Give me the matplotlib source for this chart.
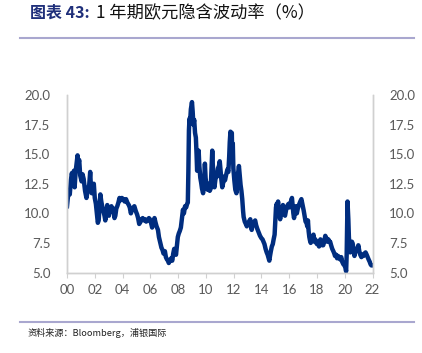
import matplotlib
matplotlib.use("Agg")
import matplotlib.pyplot as plt

plt.rcParams['font.family'] = ['Lato', 'Noto Sans CJK SC', 'DejaVu Sans']

# 1-year EUR implied vol (year, %)
years = [
    2000.00, 2000.05, 2000.12, 2000.20, 2000.28, 2000.35, 2000.42, 2000.50, 2000.55, 2000.62,
    2000.70, 2000.76, 2000.82, 2000.88, 2000.95, 2001.05, 2001.12, 2001.20, 2001.30, 2001.40,
    2001.50, 2001.60, 2001.67, 2001.72, 2001.78, 2001.85, 2001.93, 2002.00, 2002.08, 2002.15,
    2002.22, 2002.28, 2002.35, 2002.40, 2002.47, 2002.55, 2002.62, 2002.70, 2002.76, 2002.83,
    2002.90, 2002.96, 2003.02, 2003.10, 2003.20, 2003.28, 2003.35, 2003.42, 2003.48, 2003.55,
    2003.62, 2003.70, 2003.78, 2003.85, 2003.95, 2004.05, 2004.15, 2004.25, 2004.35, 2004.45,
    2004.52, 2004.60, 2004.68, 2004.78, 2004.85, 2004.95, 2005.05, 2005.12, 2005.20, 2005.30,
    2005.38, 2005.45, 2005.55, 2005.62, 2005.70, 2005.80, 2005.90, 2005.97, 2006.05, 2006.13,
    2006.20, 2006.30, 2006.38, 2006.45, 2006.55, 2006.62, 2006.70, 2006.80, 2006.88, 2006.95,
    2007.05, 2007.12, 2007.20, 2007.27, 2007.33, 2007.40, 2007.50, 2007.58, 2007.65, 2007.72,
    2007.78, 2007.85, 2007.92, 2007.98, 2008.05, 2008.12, 2008.20, 2008.28, 2008.35, 2008.42,
    2008.50, 2008.58, 2008.65, 2008.70, 2008.74, 2008.78, 2008.82, 2008.86, 2008.92, 2009.00,
    2009.05, 2009.10, 2009.16, 2009.22, 2009.28, 2009.33, 2009.37, 2009.42, 2009.48, 2009.53,
    2009.60, 2009.66, 2009.72, 2009.80, 2009.87, 2009.93, 2009.98, 2010.05, 2010.12, 2010.20,
    2010.28, 2010.35, 2010.42, 2010.46, 2010.50, 2010.56, 2010.62, 2010.68, 2010.75, 2010.80,
    2010.87, 2010.94, 2011.00, 2011.06, 2011.12, 2011.18, 2011.25, 2011.30, 2011.38, 2011.45,
    2011.55, 2011.62, 2011.68, 2011.72, 2011.77, 2011.82, 2011.87, 2011.90, 2011.94, 2011.98,
    2012.05, 2012.12, 2012.20, 2012.26, 2012.32, 2012.38, 2012.44, 2012.50, 2012.56, 2012.62,
    2012.68, 2012.72, 2012.80, 2012.88, 2012.95, 2013.02, 2013.10, 2013.20, 2013.25, 2013.30,
    2013.38, 2013.45, 2013.55, 2013.62, 2013.70, 2013.80, 2013.90, 2014.00, 2014.08, 2014.15,
    2014.22, 2014.30, 2014.38, 2014.45, 2014.52, 2014.57, 2014.62, 2014.68, 2014.75, 2014.82,
    2014.88, 2014.95, 2015.00, 2015.05, 2015.10, 2015.15, 2015.20, 2015.25, 2015.30, 2015.35,
    2015.42, 2015.50, 2015.55, 2015.60, 2015.65, 2015.70, 2015.78, 2015.85, 2015.95, 2016.02,
    2016.10, 2016.20, 2016.25, 2016.30, 2016.35, 2016.42, 2016.48, 2016.55, 2016.62, 2016.70,
    2016.80, 2016.88, 2016.95, 2017.05, 2017.12, 2017.18, 2017.25, 2017.30, 2017.35, 2017.40,
    2017.45, 2017.50, 2017.55, 2017.62, 2017.70, 2017.75, 2017.82, 2017.88, 2017.95, 2018.00,
    2018.08, 2018.15, 2018.20, 2018.25, 2018.32, 2018.38, 2018.45, 2018.52, 2018.60, 2018.68,
    2018.75, 2018.82, 2018.90, 2018.95, 2019.02, 2019.10, 2019.18, 2019.25, 2019.30, 2019.38,
    2019.45, 2019.52, 2019.60, 2019.68, 2019.75, 2019.82, 2019.90, 2019.98, 2020.05, 2020.10,
    2020.14, 2020.18, 2020.20, 2020.23, 2020.26, 2020.30, 2020.35, 2020.40, 2020.46, 2020.52,
    2020.58, 2020.64, 2020.70, 2020.76, 2020.83, 2020.90, 2020.98, 2021.05, 2021.12, 2021.20,
    2021.28, 2021.35, 2021.42, 2021.50, 2021.58, 2021.65, 2021.72, 2021.80, 2021.86, 2021.92,
    2021.97,
]
vol = [
    10.6, 11.2, 11.9, 11.6, 12.8, 13.4, 12.9, 13.6, 12.2, 13.5,
    14.3, 14.9, 14.2, 14.5, 13.2, 12.7, 13.3, 12.9, 11.9, 11.3,
    12.0, 12.4, 13.5, 12.3, 11.7, 12.0, 12.5, 11.3, 10.8, 10.0,
    9.2, 9.4, 10.6, 11.6, 11.0, 10.5, 10.2, 9.8, 9.4, 10.2,
    10.7, 10.0, 9.8, 10.4, 10.6, 10.1, 10.4, 9.6, 9.8, 10.4,
    10.6, 10.9, 11.3, 11.1, 11.3, 11.2, 11.0, 11.2, 10.9, 10.7,
    10.5, 10.0, 10.3, 10.5, 10.6, 10.2, 9.9, 9.6, 9.1, 9.3,
    9.5, 9.6, 9.4, 9.5, 9.3, 9.4, 9.6, 9.5, 9.2, 8.8,
    9.2, 9.6, 9.2, 8.9, 8.6, 8.0, 7.6, 7.1, 6.9, 6.6,
    6.8, 6.3, 6.1, 6.0, 5.8, 6.0, 6.2, 6.0, 6.6, 7.0,
    6.8, 6.5, 7.3, 8.0, 8.3, 8.5, 8.8, 9.6, 10.3, 10.0,
    10.6, 10.5, 10.8, 10.9, 13.5, 17.0, 18.0, 17.6, 18.8, 19.4,
    18.6, 17.5, 17.9, 16.8, 16.4, 15.0, 13.6, 14.2, 15.3, 14.0,
    13.0, 12.6, 12.1, 11.7, 12.4, 14.2, 13.0, 12.3, 12.0, 12.5,
    11.9, 12.1, 14.0, 15.3, 14.1, 13.0, 12.2, 12.8, 13.3, 13.1,
    13.8, 14.0, 14.4, 13.6, 12.8, 12.2, 12.6, 13.1, 12.8, 13.2,
    13.7, 13.5, 14.8, 16.0, 16.9, 16.4, 16.8, 14.5, 15.9, 13.8,
    12.8, 12.0, 11.7, 12.3, 13.4, 14.0, 13.2, 12.4, 11.9, 11.2,
    10.2, 9.7, 9.3, 9.1, 8.9, 9.1, 9.3, 9.5, 9.0, 8.6,
    9.1, 9.2, 9.4, 9.0, 8.7, 8.4, 8.1, 7.9, 7.8, 7.6,
    7.4, 7.0, 6.7, 6.5, 6.2, 6.0, 6.4, 6.8, 7.2, 7.4,
    7.8, 8.2, 9.3, 10.5, 10.8, 10.4, 11.0, 10.2, 9.8, 9.5,
    10.0, 10.4, 10.7, 10.2, 9.9, 9.8, 10.3, 10.6, 10.8, 10.5,
    10.9, 11.3, 10.6, 10.0, 9.6, 10.2, 10.6, 10.0, 10.4, 10.7,
    11.0, 11.2, 10.8, 10.2, 9.7, 9.3, 9.2, 8.9, 9.4, 8.5,
    8.0, 7.7, 7.5, 7.8, 8.0, 8.2, 7.6, 7.8, 7.5, 7.4,
    7.6, 7.2, 7.5, 7.8, 7.5, 7.3, 7.3, 7.6, 8.1, 7.9,
    7.6, 7.8, 7.6, 7.6, 7.3, 7.0, 6.8, 6.6, 6.4, 6.5,
    6.2, 6.4, 6.2, 6.1, 6.3, 5.9, 5.7, 5.6, 5.4, 5.1,
    6.5, 9.5, 11.0, 10.3, 9.5, 8.0, 7.2, 6.7, 7.0, 7.6,
    7.4, 6.8, 6.4, 6.7, 7.0, 6.9, 7.3, 6.8, 6.5, 6.3,
    6.5, 6.4, 6.6, 6.7, 6.5, 6.3, 6.1, 5.9, 5.7, 5.6,
    5.6,
]

xticks = list(range(2000, 2023, 2))
xtick_labels = ['%02d' % (y % 100) for y in xticks]
yticks = [5.0, 7.5, 10.0, 12.5, 15.0, 17.5, 20.0]

W, H = 422, 353
fig = plt.figure(figsize=(W / 100, H / 100), dpi=100)

# plot area in pixel terms
left, right, top, bottom = 67, 372.5, 95, 272.5
ax = fig.add_axes([left / W, 1 - bottom / H, (right - left) / W, (bottom - top) / H])

ax.plot(years, vol, color='#002D7F', lw=3.2, solid_joinstyle='round')

ax.set_xlim(2000, 2022)
ax.set_ylim(5, 20)
ax.set_xticks(xticks)
ax.set_xticklabels(xtick_labels)
ax.set_yticks(yticks)
ax.set_yticklabels(['%.1f' % v for v in yticks])

ax2 = ax.twinx()
ax2.set_ylim(5, 20)
ax2.set_yticks(yticks)
ax2.set_yticklabels(['%.1f' % v for v in yticks])

label_col = '#595959'
for a in (ax, ax2):
    a.spines['top'].set_visible(False)
    for s in ('left', 'right', 'bottom'):
        a.spines[s].set_color('#d0d0d0')
        a.spines[s].set_linewidth(1.0)
    a.tick_params(axis='y', length=0, labelsize=9.5, labelcolor=label_col, pad=12)
ax.tick_params(axis='x', length=3.5, color='#d0d0d0', labelsize=9.5,
               labelcolor=label_col, pad=5)

# title, two colours
fig.text(30 / W, 1 - 13 / H, '图表 43:', color='#1F2F7A', fontsize=11.5,
         fontweight='bold', va='center', ha='left',
         family=['Noto Sans CJK SC', 'DejaVu Sans'])
fig.text(96 / W, 1 - 13 / H, '1 年期欧元隐含波动率（%）', color='#111111', fontsize=12.4,
         va='center', ha='left', family=['Noto Sans CJK SC', 'DejaVu Sans'])

# separator rules
fig.add_artist(plt.Line2D([20 / W, 414 / W], [1 - 37.5 / H, 1 - 37.5 / H],
                          color='#A9A7CF', lw=1.5))
fig.add_artist(plt.Line2D([20 / W, 414 / W], [1 - 322 / H, 1 - 322 / H],
                          color='#A9A7CF', lw=1.5))

fig.text(28 / W, 1 - 333 / H, '资料来源：Bloomberg，浦银国际', color='#222222',
         fontsize=6.6, va='center', ha='left',
         family=['Noto Sans CJK SC', 'DejaVu Sans'])

fig.savefig('out.png', dpi=100)
